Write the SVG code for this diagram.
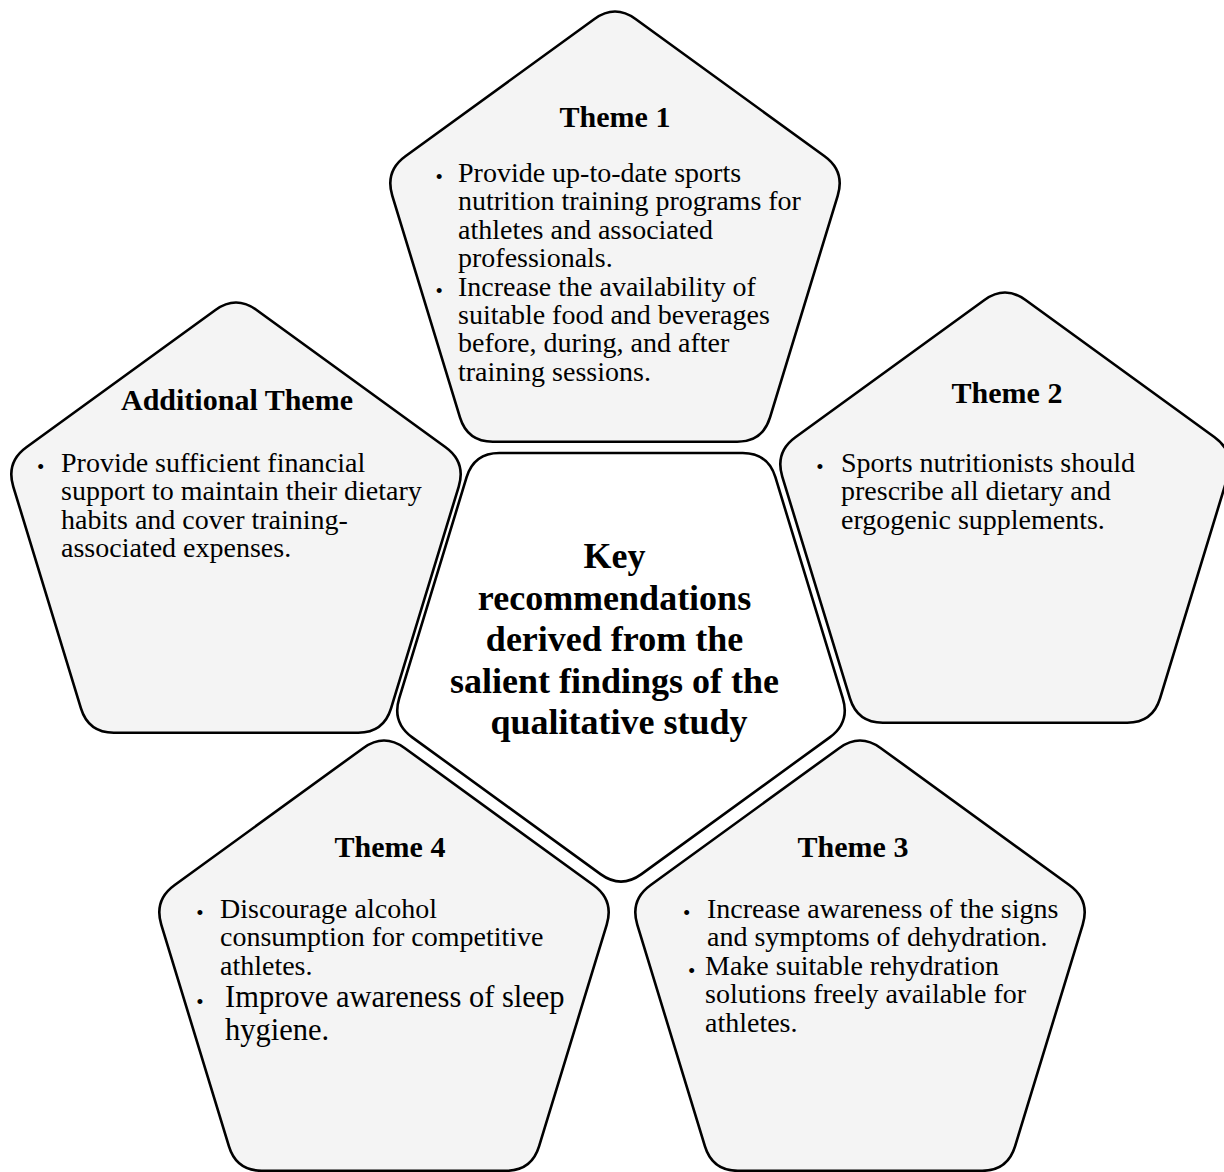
<svg xmlns="http://www.w3.org/2000/svg" xmlns:xlink="http://www.w3.org/1999/xlink" width="1224" height="1172" viewBox="0 0 1224 1172">
<defs>
<path id="pent" vector-effect="non-scaling-stroke" d="M8.495,-93.828 L86.611,-37.074 Q95.106,-30.902 92.042,-20.859 L64.064,70.859 Q61,80.902 50.5,80.902 L-50.5,80.902 Q-61,80.902 -64.064,70.859 L-92.042,-20.859 Q-95.106,-30.902 -86.611,-37.074 L-8.495,-93.828 Q0,-100 8.495,-93.828 Z"/>
</defs>
<style>
.pent{fill:#f4f4f4;stroke:#000;stroke-width:2.6}
.core{fill:#fff;stroke:#000;stroke-width:2.6}
text{font-family:"Liberation Serif","Times New Roman",serif;fill:#000}
.t{font-size:30px;font-weight:bold;text-anchor:middle}
.b{font-size:28px}
.b2{font-size:30.5px}
.dot{font-size:21px;text-anchor:middle}
.c{font-size:36px;font-weight:bold;text-anchor:middle}
</style>
<rect width="1224" height="1172" fill="#fff"/>

<g id="theme1">
<use href="#pent" class="pent" transform="translate(615,246) scale(2.42)"/>
<text class="t" x="615" y="127">Theme 1</text>
<text class="dot" x="439.3" y="184">•</text>
<text class="dot" x="439.3" y="298">•</text>
<text class="b">
<tspan x="458" y="182">Provide up-to-date sports</tspan>
<tspan x="458" y="210.4">nutrition training programs for</tspan>
<tspan x="458" y="238.8">athletes and associated</tspan>
<tspan x="458" y="267.2">professionals.</tspan>
<tspan x="458" y="295.6">Increase the availability of</tspan>
<tspan x="458" y="324">suitable food and beverages</tspan>
<tspan x="458" y="352.4">before, during, and after</tspan>
<tspan x="458" y="380.8">training sessions.</tspan>
</text>
</g>

<g id="additional-theme">
<use href="#pent" class="pent" transform="translate(236,537) scale(2.42)"/>
<text class="t" x="237" y="410">Additional Theme</text>
<text class="dot" x="40.7" y="474">•</text>
<text class="b">
<tspan x="61" y="472">Provide sufficient financial</tspan>
<tspan x="61" y="500.4">support to maintain their dietary</tspan>
<tspan x="61" y="528.8">habits and cover training-</tspan>
<tspan x="61" y="557.2">associated expenses.</tspan>
</text>
</g>

<g id="theme2">
<use href="#pent" class="pent" transform="translate(1005,527) scale(2.42)"/>
<text class="t" x="1007" y="403">Theme 2</text>
<text class="dot" x="820" y="474">•</text>
<text class="b">
<tspan x="841" y="472">Sports nutritionists should</tspan>
<tspan x="841" y="500.4">prescribe all dietary and</tspan>
<tspan x="841" y="528.8">ergogenic supplements.</tspan>
</text>
</g>

<g id="theme4">
<use href="#pent" class="pent" transform="translate(384,975) scale(2.42)"/>
<text class="t" x="390" y="857">Theme 4</text>
<text class="dot" x="200" y="920">•</text>
<text class="b">
<tspan x="220" y="918">Discourage alcohol</tspan>
<tspan x="220" y="946.4">consumption for competitive</tspan>
<tspan x="220" y="974.8">athletes.</tspan>
</text>
<text class="dot" x="200" y="1009">•</text>
<text class="b2">
<tspan x="225" y="1007">Improve awareness of sleep</tspan>
<tspan x="225" y="1040">hygiene.</tspan>
</text>
</g>

<g id="theme3">
<use href="#pent" class="pent" transform="translate(860,975) scale(2.42)"/>
<text class="t" x="853" y="857">Theme 3</text>
<text class="dot" x="686.7" y="920">•</text>
<text class="dot" x="691.7" y="978">•</text>
<text class="b">
<tspan x="707" y="918">Increase awareness of the signs</tspan>
<tspan x="707" y="946.4">and symptoms of dehydration.</tspan>
<tspan x="705" y="975">Make suitable rehydration</tspan>
<tspan x="705" y="1003.4">solutions freely available for</tspan>
<tspan x="705" y="1031.8">athletes.</tspan>
</text>
</g>

<g id="center">
<use href="#pent" class="core" transform="translate(621,648) scale(2.41,-2.41)"/>
<text class="c">
<tspan x="619" y="568">Key</tspan>
<tspan x="619" y="609.5">recommendations</tspan>
<tspan x="619" y="651">derived from the</tspan>
<tspan x="619" y="692.5">salient findings of the</tspan>
<tspan x="619" y="734">qualitative study</tspan>
</text>
</g>
</svg>
